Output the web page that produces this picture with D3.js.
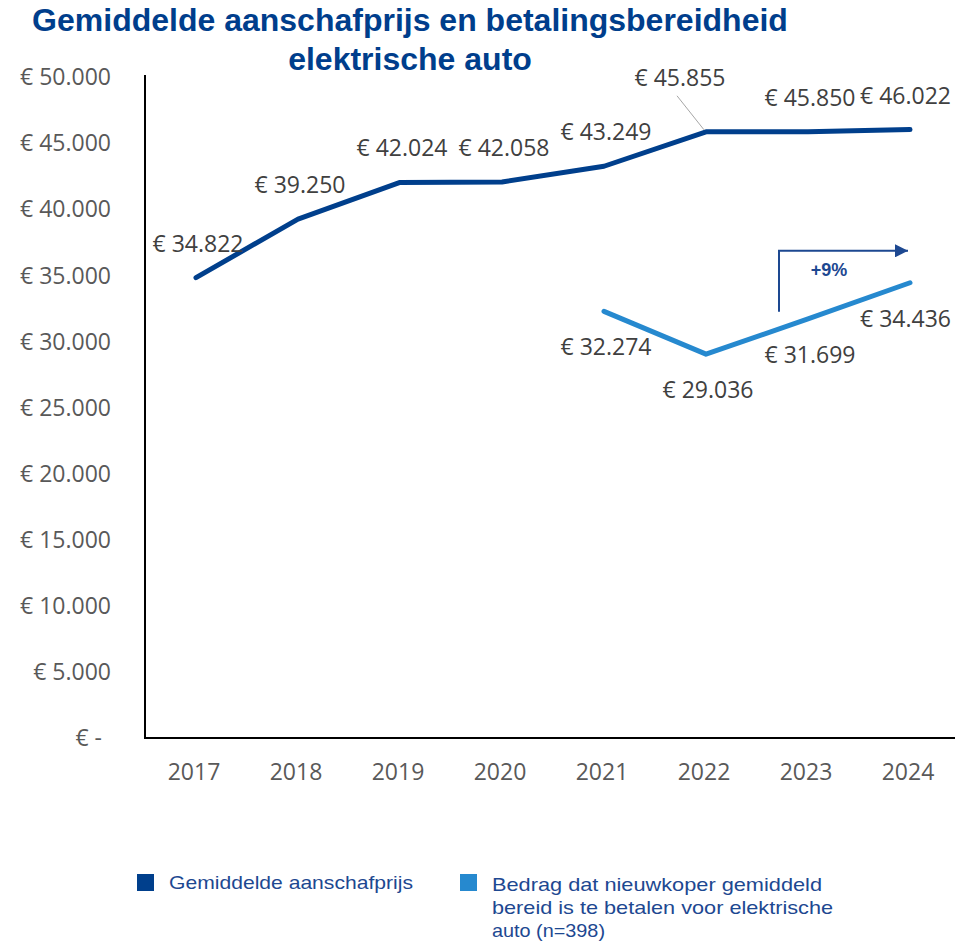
<!DOCTYPE html>
<html>
  <head>
    <meta charset="utf-8">
    <title>Aanschafprijs elektrische auto</title>
    <script src="https://d3js.org/d3.v7.min.js"></script>
    <style>
      body { margin: 0; background: #fff; }
      .tick-label { font-family: "Open Sans", sans-serif; font-size: 23px; fill: #595959; }
      .data-label { font-family: "Open Sans", sans-serif; font-size: 23px; fill: #404040; }
      .title { font-family: "Liberation Sans", Arial, sans-serif; font-weight: bold; font-size: 32px; fill: #003e8c; }
      .legend { font-family: "Liberation Sans", Arial, sans-serif; font-size: 19px; fill: #1d4891; }
    </style>
  </head>
  <body>
<script>
// years on the x axis
var years = ["2017", "2018", "2019", "2020", "2021", "2022", "2023", "2024"];

// average purchase price EV
var prijs = [34822, 39250, 42024, 42058, 43249, 45855, 45850, 46022];

// willingness to pay (only from 2021)
var bereid = [null, null, null, null, 32274, 29036, 31699, 34436];

var yTicks = [0, 5000, 10000, 15000, 20000, 25000, 30000, 35000, 40000, 45000, 50000];

var titleLines = ["Gemiddelde aanschafprijs en betalingsbereidheid", "elektrische auto"];
var legendPrijs = ["Gemiddelde aanschafprijs"];
var legendBereid = ["Bedrag dat nieuwkoper gemiddeld", "bereid is te betalen voor elektrische", "auto (n=398)"];

var width = 955,
    height = 946,
    darkBlue = "#003f8c",
    lightBlue = "#2689cf";

var svg = d3.select("body").append("svg")
  .attr("width", width)
  .attr("height", height);

var x = d3.scaleBand().domain(years).range([145, 961]);
var y = d3.scaleLinear().domain([0, 50000]).range([738, 77]);
function px(d, i) { return x(years[i]) + x.bandwidth() / 2; }

function euro(v) {
  if (v === 0) return "€ -";
  return "€ " + d3.format(",")(v).replace(/,/g, ".");
}

// title
svg.selectAll(".title").data(titleLines).enter().append("text")
  .attr("class", "title")
  .attr("x", 410)
  .attr("y", function(d, i) { return 31 + i * 39; })
  .attr("text-anchor", "middle")
  .text(function(d) { return d; });

// y axis labels
svg.selectAll(".ytick").data(yTicks).enter().append("text")
  .attr("class", "tick-label")
  .attr("x", function(d) { return d === 0 ? 102 : 111; })
  .attr("y", function(d) { return y(d); })
  .attr("dy", "0.36em")
  .attr("text-anchor", "end")
  .text(euro);

// x axis labels
svg.selectAll(".xtick").data(years).enter().append("text")
  .attr("class", "tick-label")
  .attr("x", function(d) { return x(d) + x.bandwidth() / 2 - 2; })
  .attr("y", 780)
  .attr("text-anchor", "middle")
  .text(function(d) { return d; });

// axes lines
svg.append("line")
  .attr("x1", 145).attr("x2", 145)
  .attr("y1", 75).attr("y2", y(0) + 1)
  .attr("stroke", "#000").attr("stroke-width", 2);
svg.append("line")
  .attr("x1", 144).attr("x2", width)
  .attr("y1", y(0)).attr("y2", y(0))
  .attr("stroke", "#000").attr("stroke-width", 2);

var line = d3.line()
  .defined(function(d) { return d != null; })
  .x(px)
  .y(function(d) { return y(d); });

svg.append("path")
  .datum(prijs)
  .attr("d", line)
  .attr("fill", "none")
  .attr("stroke", darkBlue)
  .attr("stroke-width", 5)
  .attr("stroke-linecap", "round")
  .attr("stroke-linejoin", "round");

svg.append("path")
  .datum(bereid)
  .attr("d", line)
  .attr("fill", "none")
  .attr("stroke", lightBlue)
  .attr("stroke-width", 5)
  .attr("stroke-linecap", "round")
  .attr("stroke-linejoin", "round");

// clamp label to the right edge of the picture
function placeLabels(sel) {
  sel.each(function() {
    var t = d3.select(this),
        w = this.getComputedTextLength(),
        cx = +t.attr("x");
    if (cx + w / 2 > 951) t.attr("x", 951 - w / 2);
  });
}

// labels for price line (2022 uses a callout)
var calloutIdx = 5;
svg.selectAll(".lbl-prijs").data(prijs).enter().append("text")
  .attr("class", "data-label")
  .attr("text-anchor", "middle")
  .attr("x", function(d, i) { return i === calloutIdx ? px(d, i) - 26 : px(d, i) + 2; })
  .attr("y", function(d, i) { return i === calloutIdx ? y(d) - 46 : y(d) - 26; })
  .text(euro)
  .call(placeLabels);

svg.append("line")
  .attr("x1", px(prijs[calloutIdx], calloutIdx) - 29)
  .attr("y1", y(prijs[calloutIdx]) - 36)
  .attr("x2", px(prijs[calloutIdx], calloutIdx) - 2)
  .attr("y2", y(prijs[calloutIdx]) - 2)
  .attr("stroke", "#a6a6a6")
  .attr("stroke-width", 1);

svg.selectAll(".lbl-bereid").data(bereid.map(function(d, i) { return {v: d, i: i}; })
    .filter(function(d) { return d.v != null; }))
  .enter().append("text")
  .attr("class", "data-label")
  .attr("text-anchor", "middle")
  .attr("x", function(d) { return px(d.v, d.i) + 2; })
  .attr("y", function(d) { return y(d.v) + 44; })
  .text(function(d) { return euro(d.v); })
  .call(placeLabels);

// +9% arrow between 2023 and 2024
var first = 6, last = 7;
var pct = Math.round((bereid[last] / bereid[first] - 1) * 100);
var ax = x(years[first]) + x.bandwidth() / 2 - 29,
    ay = y(36850),
    tipX = x(years[last]) + x.bandwidth() / 2 - 2;
svg.append("defs").append("marker")
  .attr("id", "arrow")
  .attr("viewBox", "0 -5 10 10")
  .attr("refX", 10).attr("refY", 0)
  .attr("markerUnits", "userSpaceOnUse")
  .attr("markerWidth", 16).attr("markerHeight", 13)
  .attr("orient", "auto")
  .append("path")
  .attr("d", "M0,-5L10,0L0,5Z")
  .attr("fill", "#1d4891");
svg.append("path")
  .attr("d", "M" + ax + "," + (ay + 61) + "V" + ay + "H" + tipX)
  .attr("fill", "none")
  .attr("stroke", "#1d4891")
  .attr("stroke-width", 2)
  .attr("marker-end", "url(#arrow)");
svg.append("text")
  .attr("x", ax + 50)
  .attr("y", ay + 25)
  .attr("text-anchor", "middle")
  .attr("font-family", "Liberation Sans, Arial, sans-serif")
  .attr("font-weight", "bold")
  .attr("font-size", 18)
  .attr("fill", "#1d4891")
  .text("+" + pct + "%");

// legend
var legend = svg.append("g");
legend.append("rect").attr("x", 137).attr("y", 874).attr("width", 17).attr("height", 17).attr("fill", darkBlue);
legend.append("rect").attr("x", 460).attr("y", 874).attr("width", 17).attr("height", 17).attr("fill", lightBlue);
legend.selectAll(".lg1").data(legendPrijs).enter().append("text")
  .attr("class", "legend")
  .attr("x", 169)
  .attr("y", 889)
  .attr("textLength", 244)
  .attr("lengthAdjust", "spacingAndGlyphs")
  .text(function(d) { return d; });
var lineWidths = [330, 341, 113];
legend.selectAll(".lg2").data(legendBereid).enter().append("text")
  .attr("class", "legend")
  .attr("x", 492)
  .attr("y", function(d, i) { return 891 + i * 23; })
  .attr("textLength", function(d, i) { return lineWidths[i]; })
  .attr("lengthAdjust", "spacingAndGlyphs")
  .text(function(d) { return d; });
</script>
  </body>
</html>
